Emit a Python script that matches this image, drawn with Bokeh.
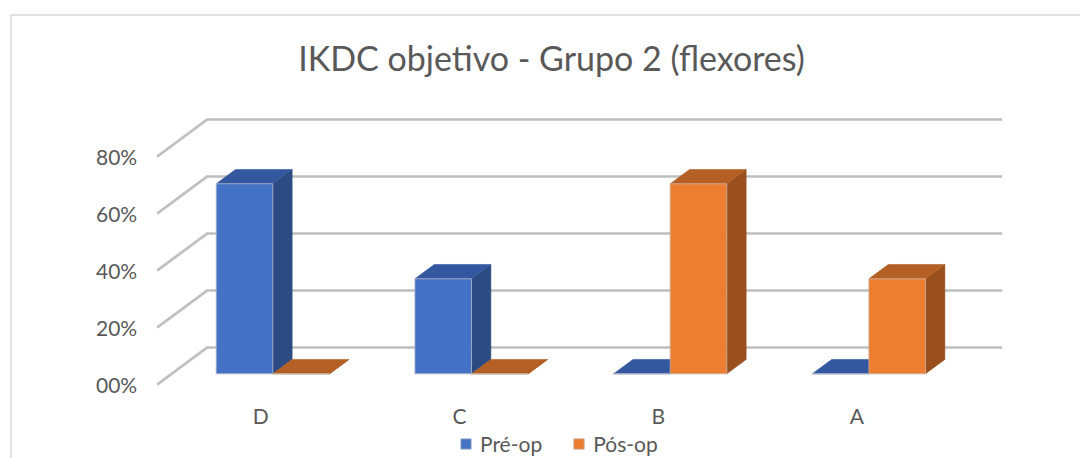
import numpy as np
from bokeh.plotting import figure
from bokeh.models import Range1d, Legend, LegendItem, Label
from bokeh.core.properties import value
from bokeh.embed import file_html
from bokeh.resources import INLINE

# ---- data -------------------------------------------------------------
categories = ["D", "C", "B", "A"]
pre_op = [66.67, 33.33, 0.0, 0.0]
pos_op = [0.0, 0.0, 66.67, 33.33]
series_names = ["Pré-op", "Pós-op"]
tick_values = [0, 20, 40, 60, 80]
tick_labels = ["00%", "20%", "40%", "60%", "80%"]
title_text = "IKDC objetivo - Grupo 2 (flexores)"

# ---- layout of the pseudo-3D scene -------------------------------------
W, H = 1080, 458
PX_PER_CAT = 198.7       # pixels per category step
PX_PER_PCT = 2.85        # pixels per percentage point
ORIGIN_X = 172.95        # pixel column of x = 0
BASE_Y = 347.0           # pixel row of the back-wall 0% line

x_start = -ORIGIN_X / PX_PER_CAT
x_end = x_start + W / PX_PER_CAT
y_end = BASE_Y / PX_PER_PCT
y_start = y_end - H / PX_PER_PCT


def sx(px):
    return x_start + px / PX_PER_CAT


def sy(py):
    return y_end - py / PX_PER_PCT


# oblique depth axis (full floor depth, back wall -> front edge)
DEPTH_DX = -50 / PX_PER_CAT
DEPTH_DY = -37 / PX_PER_PCT
FRONT_D = 0.711          # depth of the bars' front faces
BACK_D = 0.324           # depth of the bars' back faces
BAR_W = 56.6 / PX_PER_CAT
WALL_LEFT = sx(206.7)
WALL_RIGHT = sx(1001.7)

TEXT = "#595959"
FONT = "Lato"

colors = {
    "front": ["#4472C4", "#ED7D31"],
    "top": ["#3358A0", "#B45F23"],
    "side": ["#2C4B82", "#9A4F1E"],
}

p = figure(width=W, height=H, output_backend="svg", toolbar_location=None,
           x_range=Range1d(x_start, x_end), y_range=Range1d(y_start, y_end),
           x_axis_location=None, y_axis_location=None, min_border=0)
p.grid.visible = False
p.outline_line_color = None
p.background_fill_color = "white"
p.border_fill_color = "white"

# chart-area border
p.line(x=[sx(10.5), sx(10.5), sx(1095)], y=[sy(470), sy(14.5), sy(14.5)],
       line_color="#D9D9D9", line_width=1.5)

# back-wall gridlines and their receding floor/side edges
gx, gy = [], []
for v in tick_values:
    gx.append([WALL_LEFT + DEPTH_DX, WALL_LEFT, WALL_RIGHT])
    gy.append([v + DEPTH_DY, v, v])
p.multi_line(xs=gx, ys=gy, line_color="#D6D6D6", line_width=3.2)
p.multi_line(xs=gx, ys=gy, line_color="#BDBDBD", line_width=1.6)

# y tick labels at the front ends of the gridlines
p.text(x=[WALL_LEFT + DEPTH_DX - 20 / PX_PER_CAT] * len(tick_values),
       y=[v + DEPTH_DY for v in tick_values], text=tick_labels,
       text_align="right", text_baseline="middle",
       text_font=value(FONT), text_font_size="21px", text_color=TEXT)

# bars: front, top and side faces in oblique projection
bdx = (BACK_D - FRONT_D) * DEPTH_DX
bdy = (BACK_D - FRONT_D) * DEPTH_DY
base = FRONT_D * DEPTH_DY
front_renderers = []
for k, vals in enumerate([pre_op, pos_op]):
    fx, fy, tx, ty, sxs, sys_ = [], [], [], [], [], []
    for i, v in enumerate(vals):
        l = i + 0.5 - BAR_W + k * BAR_W
        r = l + BAR_W
        b = base
        t = base + v
        fx.append([l, r, r, l]); fy.append([b, b, t, t])
        tx.append([l, r, r + bdx, l + bdx]); ty.append([t, t, t + bdy, t + bdy])
        sxs.append([r, r + bdx, r + bdx, r]); sys_.append([b, b + bdy, t + bdy, t])
    p.patches(xs=sxs, ys=sys_, fill_color=colors["side"][k],
              line_color=colors["side"][k], line_width=0.6)
    p.patches(xs=tx, ys=ty, fill_color=colors["top"][k],
              line_color=colors["top"][k], line_width=0.6)
    fr = p.patches(xs=fx, ys=fy, fill_color=colors["front"][k],
                   line_color="#B0B8C8" if k == 0 else "#C8B0A0", line_width=0.8)
    front_renderers.append(fr)

# category labels below the floor
p.text(x=[i + 0.5 - 12 / PX_PER_CAT for i in range(len(categories))],
       y=[DEPTH_DY - 31 / PX_PER_PCT] * len(categories), text=categories,
       text_align="center", text_baseline="middle",
       text_font=value(FONT), text_font_size="21px", text_color=TEXT)

# title
p.add_layout(Label(x=sx(551), y=sy(57), text=title_text, text_align="center",
                   text_baseline="alphabetic", text_font=FONT,
                   text_font_size="34px", text_color=TEXT))

legend = Legend(items=[LegendItem(label=series_names[k], renderers=[front_renderers[k]])
                       for k in range(2)],
                orientation="horizontal", location=(459, 2),
                glyph_width=13, glyph_height=13, label_standoff=8, spacing=30,
                padding=0, margin=0, border_line_color=None,
                background_fill_alpha=0, label_text_font=FONT,
                label_text_font_size="21px", label_text_color=TEXT)
p.add_layout(legend)

open("out.html", "w").write(file_html(p, INLINE))
